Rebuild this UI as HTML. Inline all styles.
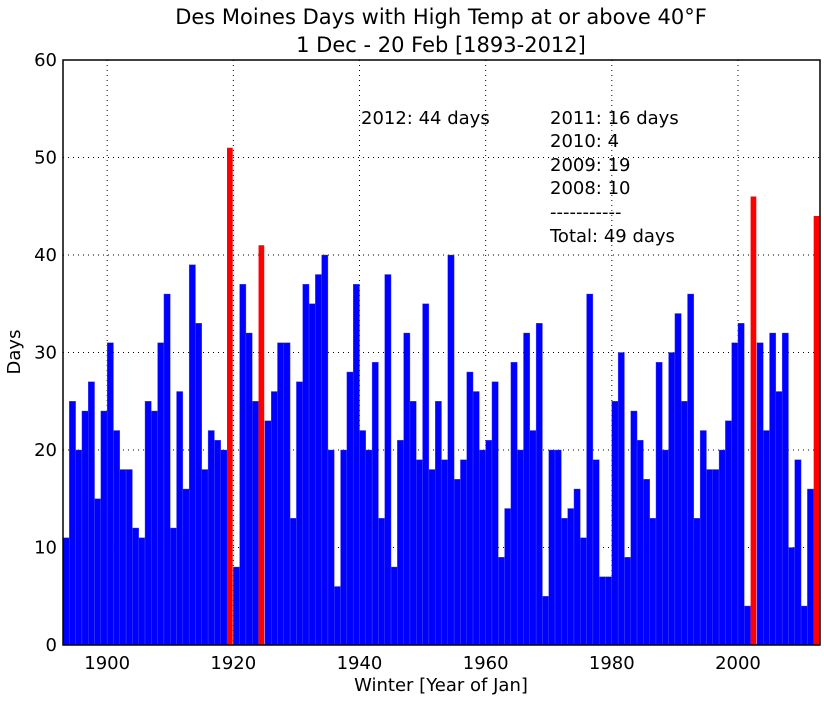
<!DOCTYPE html>
<html><head><meta charset="utf-8"><style>
body{margin:0;background:#fff;width:824px;height:700px;overflow:hidden}
svg text{font-family:"DejaVu Sans","Liberation Sans",sans-serif;fill:#000}
</style></head><body>
<svg id="chart" width="824" height="700" xmlns="http://www.w3.org/2000/svg">
<text x="441" y="24" font-size="21" text-anchor="middle">Des Moines Days with High Temp at or above 40°F</text>
<text x="441" y="52" font-size="21" text-anchor="middle">1 Dec - 20 Feb [1893-2012]</text>
<g id="grid"></g>
<g id="bars"></g>
<g id="axes"></g>
<text transform="translate(20,352) rotate(-90)" font-size="18" text-anchor="middle">Days</text>
<text x="441" y="691" font-size="18" text-anchor="middle">Winter [Year of Jan]</text>
<g font-size="18">
<text x="361" y="124">2012: 44 days</text>
<text x="550" y="124">2011: 16 days</text>
<text x="550" y="147">2010: 4</text>
<text x="550" y="171">2009: 19</text>
<text x="550" y="194">2008: 10</text>
<text x="550" y="218">-----------</text>
<text x="550" y="242">Total: 49 days</text>
</g>
</svg>
<script>
const startYear = 1893;
const days = [11,25,20,24,27,15,24,31,22,18,18,12,11,25,24,31,36,12,26,16,39,33,18,22,21,20,51,8,37,32,25,41,23,26,31,31,13,27,37,35,38,40,20,6,20,28,37,22,20,29,13,38,8,21,32,25,19,35,18,25,19,40,17,19,28,26,20,21,27,9,14,29,20,32,22,33,5,20,20,13,14,16,11,36,19,7,7,25,30,9,24,21,17,13,29,20,30,34,25,36,13,22,18,18,20,23,31,33,4,46,31,22,32,26,32,10,19,4,16,44];
const highlightYears = [1919,1924,2002,2012];
const yTicks = [0,10,20,30,40,50,60];
const xTicks = [1900,1920,1940,1960,1980,2000];
const NS="http://www.w3.org/2000/svg";
const L=63,R=820,T=60,B=645;
const xMin=1893,xMax=2013,yMax=60;
function xs(v){return L+(v-xMin)/(xMax-xMin)*(R-L);}
function ys(v){return B-v/yMax*(B-T);}
function mk(tag,attrs,parent){const e=document.createElementNS(NS,tag);for(const k in attrs)e.setAttribute(k,attrs[k]);parent.appendChild(e);return e;}
const grid=document.getElementById('grid'),bars=document.getElementById('bars'),axes=document.getElementById('axes');
yTicks.forEach(t=>{
  const l=mk('line',{x1:L,x2:R,y1:ys(t),y2:ys(t),stroke:'#000','stroke-width':1,'stroke-dasharray':'1,4'},grid);
  
  
  const tx=mk('text',{x:L-6,y:ys(t)+6,'font-size':18,'text-anchor':'end'},axes);
  tx.textContent=t;
  
  
});
xTicks.forEach(t=>{
  const l=mk('line',{x1:xs(t),x2:xs(t),y1:T,y2:B,stroke:'#000','stroke-width':1,'stroke-dasharray':'1,4'},grid);
  
  
  const tx=mk('text',{x:xs(t),y:B+24,'font-size':18,'text-anchor':'middle'},axes);
  tx.textContent=t;
  
  
});
days.forEach((d,i)=>{
  const yr=startYear+i;
  const hi=highlightYears.includes(yr);
  const x0=xs(yr),w=xs(yr+1)-x0;
  const r=mk('rect',{x:x0,y:ys(d),width:hi?w*0.9:w,height:ys(0)-ys(d),fill:hi?'#ff0000':'#0000ff',stroke:hi?'none':'#4a4aff','stroke-width':0.4},bars);
  
  
});
const fr=mk('rect',{x:L,y:T,width:R-L,height:B-T,fill:'none',stroke:'#000','stroke-width':1.5},axes);


</script>
</body></html>
